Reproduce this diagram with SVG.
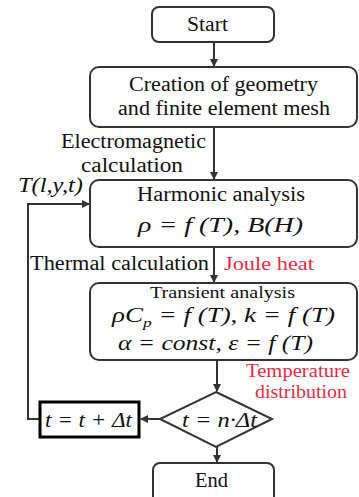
<svg xmlns="http://www.w3.org/2000/svg" width="359" height="497" viewBox="0 0 359 497">
<style>
.box{fill:#fff;stroke:#333;stroke-width:2}
text{font-family:'Liberation Serif','Times New Roman','DejaVu Serif',serif}
.t{font-size:20px;fill:#111}
.m{font-size:20px;font-style:italic;fill:#111}
.r{font-size:19px;fill:#ee2a40}
.ln{fill:none;stroke:#333;stroke-width:2}
</style>
<defs>
<marker id="ah" markerWidth="8" markerHeight="8" refX="7" refY="4" orient="auto" markerUnits="userSpaceOnUse">
<path d="M0,0 L8,4 L0,8 z" fill="#333"/>
</marker>
</defs>
<rect width="359" height="497" fill="#fff"/>
<g id="connectors">
<line class="ln" x1="214" y1="42" x2="214" y2="66" marker-end="url(#ah)"/>
<line class="ln" x1="214" y1="127" x2="214" y2="179" marker-end="url(#ah)"/>
<line class="ln" x1="214" y1="247" x2="214" y2="282" marker-end="url(#ah)"/>
<line class="ln" x1="217" y1="360" x2="217" y2="391" marker-end="url(#ah)"/>
<line class="ln" x1="160" y1="419" x2="141" y2="419" marker-end="url(#ah)"/>
<line class="ln" x1="217" y1="447" x2="217" y2="462" marker-end="url(#ah)"/>
<polyline class="ln" points="40,419 28,419 28,204 89,204" marker-end="url(#ah)"/>
</g>
<g id="start">
<rect class="box" x="152" y="7" width="122" height="35" rx="7"/>
<text class="t" x="207.5" y="31" text-anchor="middle" textLength="41" lengthAdjust="spacingAndGlyphs">Start</text>
</g>
<g id="creation">
<rect class="box" x="90" y="67" width="267" height="60" rx="9"/>
<text class="t" x="223.5" y="91" text-anchor="middle" textLength="189" lengthAdjust="spacingAndGlyphs">Creation of geometry</text>
<text class="t" x="224" y="115" text-anchor="middle" textLength="212" lengthAdjust="spacingAndGlyphs">and finite element mesh</text>
</g>
<g id="em-label">
<text class="t" x="61" y="148" textLength="145" lengthAdjust="spacingAndGlyphs">Electromagnetic</text>
<text class="t" x="81" y="172" textLength="102" lengthAdjust="spacingAndGlyphs">calculation</text>
</g>
<g id="tlyt">
<text class="m" x="18" y="192" textLength="65" lengthAdjust="spacingAndGlyphs">T(l,y,t)</text>
</g>
<g id="harmonic">
<rect class="box" x="90" y="180" width="267" height="67" rx="9"/>
<text class="t" x="221" y="201" text-anchor="middle" textLength="168" lengthAdjust="spacingAndGlyphs">Harmonic analysis</text>
<text class="m" x="138" y="232" textLength="165" lengthAdjust="spacingAndGlyphs">ρ = f (T), B(H)</text>
</g>
<g id="thermal-label">
<text class="t" x="30" y="270" textLength="179" lengthAdjust="spacingAndGlyphs">Thermal calculation</text>
<text class="r" x="224" y="270" textLength="90" lengthAdjust="spacingAndGlyphs">Joule heat</text>
</g>
<g id="transient">
<rect class="box" x="90" y="283" width="267" height="77" rx="9"/>
<text class="t" x="222.5" y="298" text-anchor="middle" style="font-size:17px" textLength="145" lengthAdjust="spacingAndGlyphs">Transient analysis</text>
<text class="m" x="112" y="322" textLength="223" lengthAdjust="spacingAndGlyphs">ρC<tspan style="font-size:13px" dy="5">p</tspan><tspan dy="-5"> = f (T), k = f (T)</tspan></text>
<text class="m" x="118" y="350" textLength="195" lengthAdjust="spacingAndGlyphs">α = const, ε = f (T)</text>
</g>
<g id="temp-label">
<text class="r" x="246" y="377" textLength="104" lengthAdjust="spacingAndGlyphs">Temperature</text>
<text class="r" x="255" y="398" textLength="92" lengthAdjust="spacingAndGlyphs">distribution</text>
</g>
<g id="decision">
<polygon class="box" points="216,392 272,419 216,447 160,419"/>
<text class="m" x="182" y="427" textLength="75" lengthAdjust="spacingAndGlyphs">t = n·Δt</text>
</g>
<g id="increment">
<rect x="40" y="402" width="99" height="35" fill="#fff" stroke="#000" stroke-width="3"/>
<text class="m" x="45" y="427" textLength="87" lengthAdjust="spacingAndGlyphs">t = t + Δt</text>
</g>
<g id="end">
<rect class="box" x="153" y="463" width="121" height="45" rx="7"/>
<text class="t" x="211.5" y="487" text-anchor="middle" textLength="33" lengthAdjust="spacingAndGlyphs">End</text>
</g>
</svg>
